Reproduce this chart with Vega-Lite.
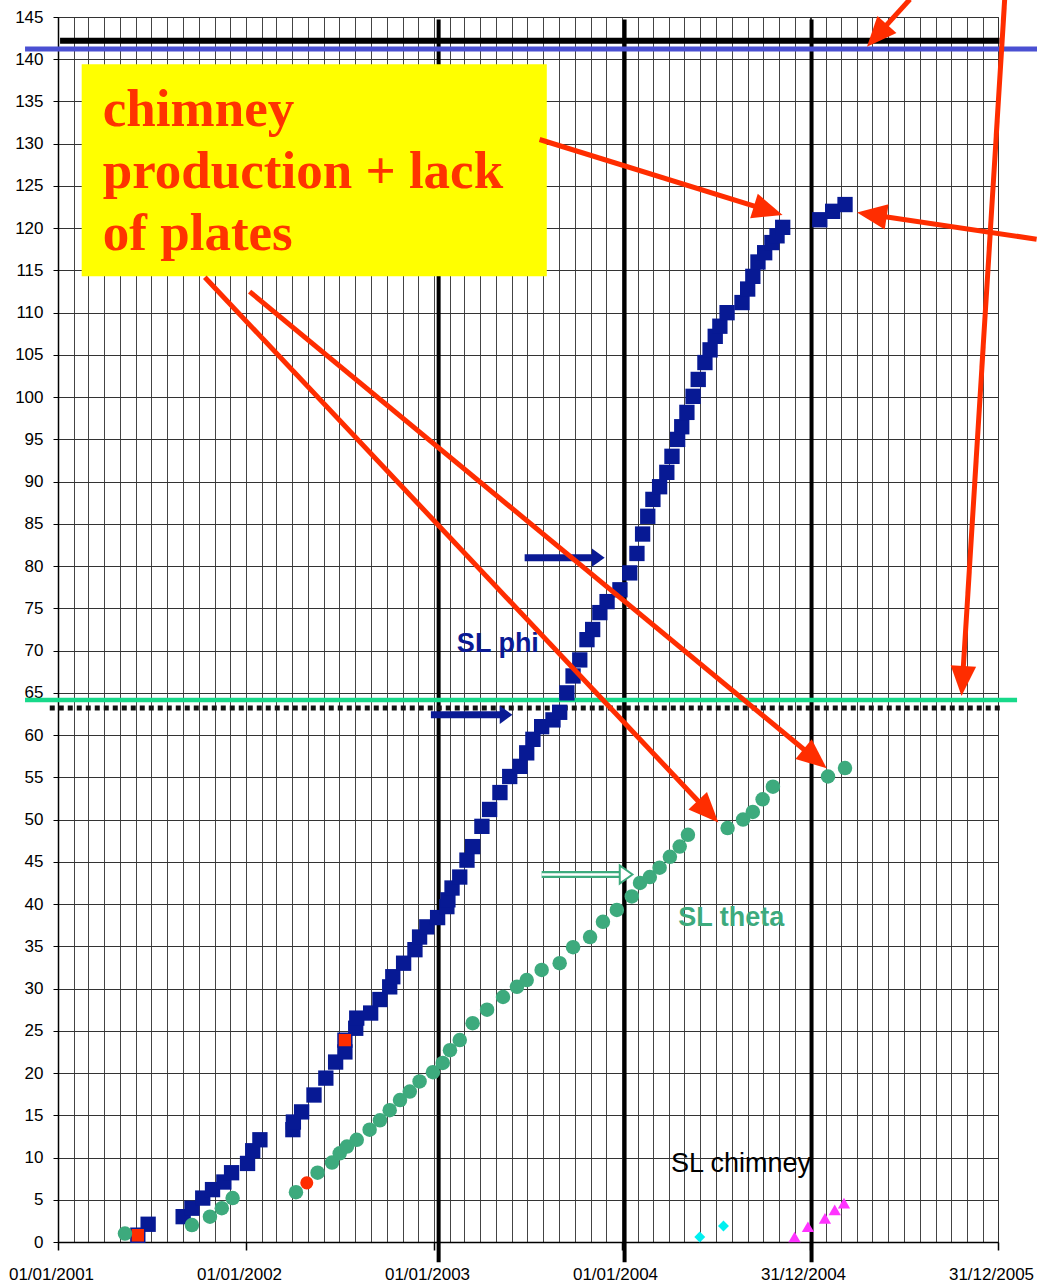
{
  "$schema": "https://vega.github.io/schema/vega-lite/v6.json",
  "width": 940,
  "height": 1225,
  "autosize": {"type": "none"},
  "padding": {"left": 58, "top": 17, "right": 39, "bottom": 46},
  "background": "white",
  "config": {"view": {"stroke": "#333333", "strokeWidth": 1}, "font": "Liberation Sans"},
  "datasets": {
    "phi": [
      {"date": "2001-06-25", "v": 2.1}, {"date": "2001-09-01", "v": 3.0}, {"date": "2001-09-18", "v": 4.0},
      {"date": "2001-10-09", "v": 5.2}, {"date": "2001-10-28", "v": 6.2}, {"date": "2001-11-19", "v": 7.1},
      {"date": "2001-12-04", "v": 8.2}, {"date": "2002-01-04", "v": 9.3}, {"date": "2002-01-14", "v": 10.8},
      {"date": "2002-01-28", "v": 12.1}, {"date": "2002-04-02", "v": 13.3}, {"date": "2002-04-03", "v": 14.2},
      {"date": "2002-04-19", "v": 15.4}, {"date": "2002-05-13", "v": 17.4}, {"date": "2002-06-05", "v": 19.4},
      {"date": "2002-06-24", "v": 21.3}, {"date": "2002-07-12", "v": 22.5}, {"date": "2002-08-02", "v": 25.3},
      {"date": "2002-08-04", "v": 26.5}, {"date": "2002-08-31", "v": 27.1}, {"date": "2002-09-18", "v": 28.7},
      {"date": "2002-10-07", "v": 30.2}, {"date": "2002-10-13", "v": 31.4}, {"date": "2002-11-03", "v": 33.0},
      {"date": "2002-11-25", "v": 34.6}, {"date": "2002-12-04", "v": 36.1}, {"date": "2002-12-18", "v": 37.3},
      {"date": "2003-01-08", "v": 38.4}, {"date": "2003-01-26", "v": 39.7}, {"date": "2003-01-28", "v": 40.5},
      {"date": "2003-02-05", "v": 41.9}, {"date": "2003-02-20", "v": 43.2}, {"date": "2003-03-06", "v": 45.2},
      {"date": "2003-03-17", "v": 46.8}, {"date": "2003-04-04", "v": 49.2}, {"date": "2003-04-19", "v": 51.2},
      {"date": "2003-05-09", "v": 53.2}, {"date": "2003-05-28", "v": 55.1}, {"date": "2003-06-17", "v": 56.3},
      {"date": "2003-06-30", "v": 57.9}, {"date": "2003-07-12", "v": 59.5}, {"date": "2003-07-29", "v": 61.0},
      {"date": "2003-08-20", "v": 61.8}, {"date": "2003-09-02", "v": 62.7}, {"date": "2003-09-16", "v": 65.0},
      {"date": "2003-09-28", "v": 67.0}, {"date": "2003-10-11", "v": 68.9}, {"date": "2003-10-25", "v": 71.3},
      {"date": "2003-11-05", "v": 72.5}, {"date": "2003-11-19", "v": 74.5}, {"date": "2003-12-03", "v": 75.8},
      {"date": "2003-12-28", "v": 77.2}, {"date": "2004-01-16", "v": 79.2}, {"date": "2004-01-30", "v": 81.5},
      {"date": "2004-02-10", "v": 83.8}, {"date": "2004-02-20", "v": 85.9}, {"date": "2004-03-01", "v": 87.9},
      {"date": "2004-03-14", "v": 89.4}, {"date": "2004-03-28", "v": 91.1}, {"date": "2004-04-07", "v": 93.0},
      {"date": "2004-04-18", "v": 95.0}, {"date": "2004-04-26", "v": 96.5}, {"date": "2004-05-06", "v": 98.2},
      {"date": "2004-05-18", "v": 100.1}, {"date": "2004-05-28", "v": 102.1}, {"date": "2004-06-10", "v": 104.1},
      {"date": "2004-06-20", "v": 105.6}, {"date": "2004-06-30", "v": 107.2}, {"date": "2004-07-09", "v": 108.4},
      {"date": "2004-07-23", "v": 110.0}, {"date": "2004-08-21", "v": 111.2}, {"date": "2004-09-01", "v": 112.8},
      {"date": "2004-09-11", "v": 114.3}, {"date": "2004-09-21", "v": 116.0}, {"date": "2004-10-04", "v": 117.1},
      {"date": "2004-10-18", "v": 118.3}, {"date": "2004-10-28", "v": 119.1}, {"date": "2004-11-08", "v": 120.1},
      {"date": "2005-01-19", "v": 121.0}, {"date": "2005-02-13", "v": 122.0}, {"date": "2005-03-09", "v": 122.8}
    ],
    "theta": [
      {"date": "2001-05-11", "v": 1.0}, {"date": "2001-09-18", "v": 2.0}, {"date": "2001-10-23", "v": 3.0},
      {"date": "2001-11-15", "v": 4.0}, {"date": "2001-12-06", "v": 5.2}, {"date": "2002-04-08", "v": 5.9},
      {"date": "2002-05-20", "v": 8.2}, {"date": "2002-06-17", "v": 9.4}, {"date": "2002-07-02", "v": 10.5},
      {"date": "2002-07-16", "v": 11.3}, {"date": "2002-08-04", "v": 12.1}, {"date": "2002-08-29", "v": 13.3},
      {"date": "2002-09-18", "v": 14.4}, {"date": "2002-10-07", "v": 15.6}, {"date": "2002-10-27", "v": 16.8},
      {"date": "2002-11-15", "v": 17.8}, {"date": "2002-12-04", "v": 19.0}, {"date": "2002-12-30", "v": 20.1},
      {"date": "2003-01-18", "v": 21.2}, {"date": "2003-02-01", "v": 22.7}, {"date": "2003-02-20", "v": 23.9},
      {"date": "2003-03-17", "v": 25.9}, {"date": "2003-04-14", "v": 27.5}, {"date": "2003-05-15", "v": 29.0},
      {"date": "2003-06-11", "v": 30.2}, {"date": "2003-06-30", "v": 31.0}, {"date": "2003-07-29", "v": 32.2},
      {"date": "2003-09-02", "v": 33.0}, {"date": "2003-09-28", "v": 34.9}, {"date": "2003-10-31", "v": 36.1},
      {"date": "2003-11-25", "v": 37.9}, {"date": "2003-12-22", "v": 39.3}, {"date": "2004-01-20", "v": 40.9},
      {"date": "2004-02-05", "v": 42.5}, {"date": "2004-02-24", "v": 43.2}, {"date": "2004-03-14", "v": 44.3},
      {"date": "2004-04-03", "v": 45.6}, {"date": "2004-04-22", "v": 46.8}, {"date": "2004-05-08", "v": 48.2},
      {"date": "2004-07-24", "v": 49.0}, {"date": "2004-08-23", "v": 50.0}, {"date": "2004-09-11", "v": 50.9},
      {"date": "2004-09-30", "v": 52.4}, {"date": "2004-10-20", "v": 53.9}, {"date": "2005-02-04", "v": 55.1},
      {"date": "2005-03-09", "v": 56.1}
    ],
    "redsq": [{"date": "2001-06-05", "v": 0.8}, {"date": "2002-07-12", "v": 23.9}],
    "redci": [{"date": "2002-04-29", "v": 7.0}],
    "cyan": [{"date": "2004-05-31", "v": 0.6}, {"date": "2004-07-16", "v": 1.9}],
    "magenta": [
      {"date": "2004-12-01", "v": 0.6}, {"date": "2004-12-27", "v": 1.8}, {"date": "2005-01-29", "v": 2.8},
      {"date": "2005-02-17", "v": 3.8}, {"date": "2005-03-07", "v": 4.6}
    ],
    "hl": [
      {"k": "black", "a": "2001-01-05", "b": "2006-01-03", "v": 142.2},
      {"k": "blue", "a": "2000-10-29", "b": "2006-03-20", "v": 141.2},
      {"k": "dots", "a": "2000-12-16", "b": "2006-01-04", "v": 63.2},
      {"k": "green", "a": "2000-10-29", "b": "2006-02-06", "v": 64.15}
    ],
    "vl": [
      {"date": "2003-01-10", "lo": -2.4, "hi": 144.7},
      {"date": "2004-01-06", "lo": -2.4, "hi": 144.7},
      {"date": "2005-01-03", "lo": -2.4, "hi": 144.7}
    ],
    "box": [{"a": "2001-02-16", "b": "2003-08-08", "lo": 114.3, "hi": 139.4}],
    "boxtext": [
      {"t": "chimney", "date": "2001-03-29", "v": 132.1},
      {"t": "production + lack", "date": "2001-03-29", "v": 124.8},
      {"t": "of plates", "date": "2001-03-29", "v": 117.4}
    ],
    "labels": [
      {"k": "phi", "t": "SL phi", "date": "2003-05-05", "v": 70.8},
      {"k": "theta", "t": "SL theta", "date": "2004-07-31", "v": 38.3},
      {"k": "chim", "t": "SL chimney", "date": "2004-08-19", "v": 9.2}
    ],
    "redarrows": [
      {"id": 1, "a": "2003-07-25", "va": 130.5, "b": "2004-10-11", "vb": 122.1},
      {"id": 2, "a": "2006-03-16", "va": 118.7, "b": "2005-04-30", "vb": 121.6},
      {"id": 3, "a": "2001-10-13", "va": 114.2, "b": "2004-06-16", "vb": 50.95},
      {"id": 4, "a": "2002-01-08", "va": 112.5, "b": "2005-01-10", "vb": 57.2},
      {"id": 5, "a": "2005-07-13", "va": 147.1, "b": "2005-05-10", "vb": 142.8},
      {"id": 6, "a": "2006-01-13", "va": 147.1, "b": "2005-10-23", "vb": 66.4}
    ],
    "bluearrows": [
      {"id": 1, "a": "2003-06-26", "b": "2003-11-16", "v": 81.0},
      {"id": 2, "a": "2002-12-26", "b": "2003-05-21", "v": 62.4}
    ],
    "greenarrow": [{"id": 1, "a": "2003-07-29", "b": "2004-01-09", "v": 43.5}]
  },
  "layer": [
    {
      "data": {"name": "vl"},
      "mark": {"type": "rule", "color": "black", "strokeWidth": 4, "clip": false},
      "encoding": {
        "x": {"field": "date", "type": "temporal", "axis": null,
              "scale": {"domain": [{"year": 2001, "month": 1, "date": 1}, {"year": 2005, "month": 12, "date": 31}]}},
        "y": {"field": "lo", "type": "quantitative", "axis": null, "scale": {"domain": [0, 145], "nice": false, "zero": true}},
        "y2": {"field": "hi"}
      }
    },
    {
      "data": {"name": "box"},
      "mark": {"type": "rect", "color": "#FFFF00", "opacity": 1},
      "encoding": {
        "x": {"field": "a", "type": "temporal", "axis": null},
        "x2": {"field": "b"},
        "y": {"field": "lo", "type": "quantitative", "axis": null},
        "y2": {"field": "hi"}
      }
    },
    {
      "data": {"name": "hl"},
      "transform": [{"filter": "datum.k === 'black'"}],
      "mark": {"type": "rule", "color": "black", "strokeWidth": 6, "clip": false},
      "encoding": {
        "x": {"field": "a", "type": "temporal", "axis": null},
        "x2": {"field": "b"},
        "y": {"field": "v", "type": "quantitative", "axis": null}
      }
    },
    {
      "data": {"name": "hl"},
      "transform": [{"filter": "datum.k === 'blue'"}],
      "mark": {"type": "rule", "color": "#4A50D2", "strokeWidth": 5, "clip": false},
      "encoding": {
        "x": {"field": "a", "type": "temporal", "axis": null},
        "x2": {"field": "b"},
        "y": {"field": "v", "type": "quantitative", "axis": null}
      }
    },
    {
      "data": {"name": "hl"},
      "transform": [{"filter": "datum.k === 'dots'"}],
      "mark": {"type": "rule", "color": "#111111", "strokeWidth": 5, "strokeDash": [5, 4], "clip": false},
      "encoding": {
        "x": {"field": "a", "type": "temporal", "axis": null},
        "x2": {"field": "b"},
        "y": {"field": "v", "type": "quantitative", "axis": null}
      }
    },
    {
      "data": {"name": "hl"},
      "transform": [{"filter": "datum.k === 'green'"}],
      "mark": {"type": "rule", "color": "#17D98A", "strokeWidth": 4.5, "clip": false},
      "encoding": {
        "x": {"field": "a", "type": "temporal", "axis": null},
        "x2": {"field": "b"},
        "y": {"field": "v", "type": "quantitative", "axis": null}
      }
    },
    {
      "data": {"name": "phi"},
      "mark": {"type": "point", "shape": "square", "filled": true, "size": 235, "color": "#071994", "opacity": 1},
      "encoding": {
        "x": {"field": "date", "type": "temporal",
              "axis": {"values": [{"year": 2001, "month": 1, "date": 1}, {"year": 2002, "month": 1, "date": 1}, {"year": 2003, "month": 1, "date": 1}, {"year": 2004, "month": 1, "date": 1}, {"year": 2004, "month": 12, "date": 31}, {"year": 2005, "month": 12, "date": 31}],
                       "format": "%d/%m/%Y", "title": null, "labelFontSize": 17, "labelColor": "black", "labelFont": "Liberation Sans",
                       "tickSize": 8, "tickColor": "black", "tickWidth": 1.5, "domainColor": "black", "domainWidth": 1.5,
                       "labelPadding": 16, "labelOffset": -7, "labelFlush": false, "labelOverlap": false,
                       "grid": true, "gridColor": "#333333", "gridWidth": 1}},
        "y": {"field": "v", "type": "quantitative",
              "axis": {"values": [0, 5, 10, 15, 20, 25, 30, 35, 40, 45, 50, 55, 60, 65, 70, 75, 80, 85, 90, 95, 100, 105, 110, 115, 120, 125, 130, 135, 140, 145],
                       "title": null, "labelFontSize": 17, "labelColor": "black", "labelFont": "Liberation Sans",
                       "tickSize": 5, "tickColor": "black", "domainColor": "black", "domainWidth": 1.5, "labelPadding": 10,
                       "labelFlush": false, "labelOverlap": false,
                       "grid": true, "gridColor": "#333333", "gridWidth": 1}}
      }
    },
    {
      "data": {"name": "redsq"},
      "mark": {"type": "point", "shape": "square", "filled": true, "size": 190, "fill": "#FF2D00", "stroke": "#071994", "strokeWidth": 1.5, "opacity": 1},
      "encoding": {
        "x": {"field": "date", "type": "temporal", "axis": null},
        "y": {"field": "v", "type": "quantitative", "axis": null}
      }
    },
    {
      "data": {"name": "theta"},
      "mark": {"type": "point", "shape": "circle", "filled": true, "size": 210, "color": "#3DAA7D", "opacity": 1},
      "encoding": {
        "x": {"field": "date", "type": "temporal",
              "axis": {"tickCount": {"interval": "month", "step": 1}, "grid": true, "gridColor": "#444444", "gridWidth": 1,
                       "labels": false, "ticks": false, "domain": false, "title": null}},
        "y": {"field": "v", "type": "quantitative", "axis": null}
      }
    },
    {
      "data": {"name": "redci"},
      "mark": {"type": "point", "shape": "circle", "filled": true, "size": 170, "color": "#FF2D00", "opacity": 1},
      "encoding": {
        "x": {"field": "date", "type": "temporal", "axis": null},
        "y": {"field": "v", "type": "quantitative", "axis": null}
      }
    },
    {
      "data": {"name": "cyan"},
      "mark": {"type": "point", "shape": "diamond", "filled": true, "size": 120, "color": "#00F0F0", "opacity": 1},
      "encoding": {
        "x": {"field": "date", "type": "temporal", "axis": null},
        "y": {"field": "v", "type": "quantitative", "axis": null}
      }
    },
    {
      "data": {"name": "magenta"},
      "transform": [{"filter": "datum.date < '2004-12-30'"}],
      "mark": {"type": "line", "color": "#FF33FF", "strokeWidth": 1.2},
      "encoding": {
        "x": {"field": "date", "type": "temporal", "axis": null},
        "y": {"field": "v", "type": "quantitative", "axis": null}
      }
    },
    {
      "data": {"name": "magenta"},
      "mark": {"type": "point", "shape": "triangle-up", "filled": true, "size": 150, "color": "#FF33FF", "opacity": 1},
      "encoding": {
        "x": {"field": "date", "type": "temporal", "axis": null},
        "y": {"field": "v", "type": "quantitative", "axis": null}
      }
    },
    {
      "data": {"name": "labels"},
      "transform": [{"filter": "datum.k === 'phi'"}],
      "mark": {"type": "text", "font": "Liberation Sans", "fontWeight": "bold", "fontSize": 27, "color": "#0A1A94", "align": "center", "baseline": "middle"},
      "encoding": {
        "x": {"field": "date", "type": "temporal", "axis": null},
        "y": {"field": "v", "type": "quantitative", "axis": null},
        "text": {"field": "t"}
      }
    },
    {
      "data": {"name": "labels"},
      "transform": [{"filter": "datum.k === 'theta'"}],
      "mark": {"type": "text", "font": "Liberation Sans", "fontWeight": "bold", "fontSize": 27, "color": "#3DAA7D", "align": "center", "baseline": "middle"},
      "encoding": {
        "x": {"field": "date", "type": "temporal", "axis": null},
        "y": {"field": "v", "type": "quantitative", "axis": null},
        "text": {"field": "t"}
      }
    },
    {
      "data": {"name": "labels"},
      "transform": [{"filter": "datum.k === 'chim'"}],
      "mark": {"type": "text", "font": "Liberation Sans", "fontSize": 27, "color": "black", "align": "center", "baseline": "middle"},
      "encoding": {
        "x": {"field": "date", "type": "temporal", "axis": null},
        "y": {"field": "v", "type": "quantitative", "axis": null},
        "text": {"field": "t"}
      }
    },
    {
      "data": {"name": "boxtext"},
      "mark": {"type": "text", "font": "Liberation Serif", "fontWeight": "bold", "fontSize": 53, "color": "#FF3300", "align": "left", "baseline": "alphabetic"},
      "encoding": {
        "x": {"field": "date", "type": "temporal", "axis": null},
        "y": {"field": "v", "type": "quantitative", "axis": null},
        "text": {"field": "t"}
      }
    },
    {
      "data": {"name": "bluearrows"},
      "mark": {"type": "rule", "color": "#0A1A94", "strokeWidth": 7},
      "encoding": {
        "x": {"field": "a", "type": "temporal", "axis": null},
        "x2": {"field": "b"},
        "y": {"field": "v", "type": "quantitative", "axis": null}
      }
    },
    {
      "data": {"name": "bluearrows"},
      "mark": {"type": "point", "shape": "M0,-0.7L1,0.7L-1,0.7Z", "angle": 90, "filled": true, "size": 330, "color": "#0A1A94", "opacity": 1},
      "encoding": {
        "x": {"field": "b", "type": "temporal", "axis": null},
        "y": {"field": "v", "type": "quantitative", "axis": null}
      }
    },
    {
      "data": {"name": "greenarrow"},
      "mark": {"type": "rule", "color": "#3DAA7D", "strokeWidth": 7},
      "encoding": {
        "x": {"field": "a", "type": "temporal", "axis": null},
        "x2": {"field": "b"},
        "y": {"field": "v", "type": "quantitative", "axis": null}
      }
    },
    {
      "data": {"name": "greenarrow"},
      "mark": {"type": "rule", "color": "white", "strokeWidth": 2.5},
      "encoding": {
        "x": {"field": "a", "type": "temporal", "axis": null},
        "x2": {"field": "b"},
        "y": {"field": "v", "type": "quantitative", "axis": null}
      }
    },
    {
      "data": {"name": "greenarrow"},
      "mark": {"type": "point", "shape": "M0,-0.7L1,0.7L-1,0.7Z", "angle": 90, "filled": true, "size": 330, "fill": "white", "stroke": "#3DAA7D", "strokeWidth": 2, "opacity": 1},
      "encoding": {
        "x": {"field": "b", "type": "temporal", "axis": null},
        "y": {"field": "v", "type": "quantitative", "axis": null}
      }
    },
    {
      "data": {"name": "redarrows"},
      "mark": {"type": "rule", "color": "#FF2D00", "strokeWidth": 5, "clip": false},
      "encoding": {
        "x": {"field": "a", "type": "temporal", "axis": null},
        "x2": {"field": "b"},
        "y": {"field": "va", "type": "quantitative", "axis": null},
        "y2": {"field": "vb"}
      }
    },
    {
      "data": {"name": "redarrows"},
      "transform": [{"filter": "datum.id === 1"}],
      "mark": {"type": "point", "shape": "M0,-1L0.85,1L-0.85,1Z", "angle": 107.4, "filled": true, "size": 900, "color": "#FF2D00", "opacity": 1, "clip": false},
      "encoding": {"x": {"field": "b", "type": "temporal", "axis": null}, "y": {"field": "vb", "type": "quantitative", "axis": null}}
    },
    {
      "data": {"name": "redarrows"},
      "transform": [{"filter": "datum.id === 2"}],
      "mark": {"type": "point", "shape": "M0,-1L0.85,1L-0.85,1Z", "angle": 278.6, "filled": true, "size": 900, "color": "#FF2D00", "opacity": 1, "clip": false},
      "encoding": {"x": {"field": "b", "type": "temporal", "axis": null}, "y": {"field": "vb", "type": "quantitative", "axis": null}}
    },
    {
      "data": {"name": "redarrows"},
      "transform": [{"filter": "datum.id === 3"}],
      "mark": {"type": "point", "shape": "M0,-1L0.85,1L-0.85,1Z", "angle": 136.6, "filled": true, "size": 900, "color": "#FF2D00", "opacity": 1, "clip": false},
      "encoding": {"x": {"field": "b", "type": "temporal", "axis": null}, "y": {"field": "vb", "type": "quantitative", "axis": null}}
    },
    {
      "data": {"name": "redarrows"},
      "transform": [{"filter": "datum.id === 4"}],
      "mark": {"type": "point", "shape": "M0,-1L0.85,1L-0.85,1Z", "angle": 129.6, "filled": true, "size": 900, "color": "#FF2D00", "opacity": 1, "clip": false},
      "encoding": {"x": {"field": "b", "type": "temporal", "axis": null}, "y": {"field": "vb", "type": "quantitative", "axis": null}}
    },
    {
      "data": {"name": "redarrows"},
      "transform": [{"filter": "datum.id === 5"}],
      "mark": {"type": "point", "shape": "M0,-1L0.85,1L-0.85,1Z", "angle": 221.8, "filled": true, "size": 900, "color": "#FF2D00", "opacity": 1, "clip": false},
      "encoding": {"x": {"field": "b", "type": "temporal", "axis": null}, "y": {"field": "vb", "type": "quantitative", "axis": null}}
    },
    {
      "data": {"name": "redarrows"},
      "transform": [{"filter": "datum.id === 6"}],
      "mark": {"type": "point", "shape": "M0,-1L0.85,1L-0.85,1Z", "angle": 183.5, "filled": true, "size": 900, "color": "#FF2D00", "opacity": 1, "clip": false},
      "encoding": {"x": {"field": "b", "type": "temporal", "axis": null}, "y": {"field": "vb", "type": "quantitative", "axis": null}}
    }
  ],
  "resolve": {"axis": {"x": "independent", "y": "independent"}}
}
